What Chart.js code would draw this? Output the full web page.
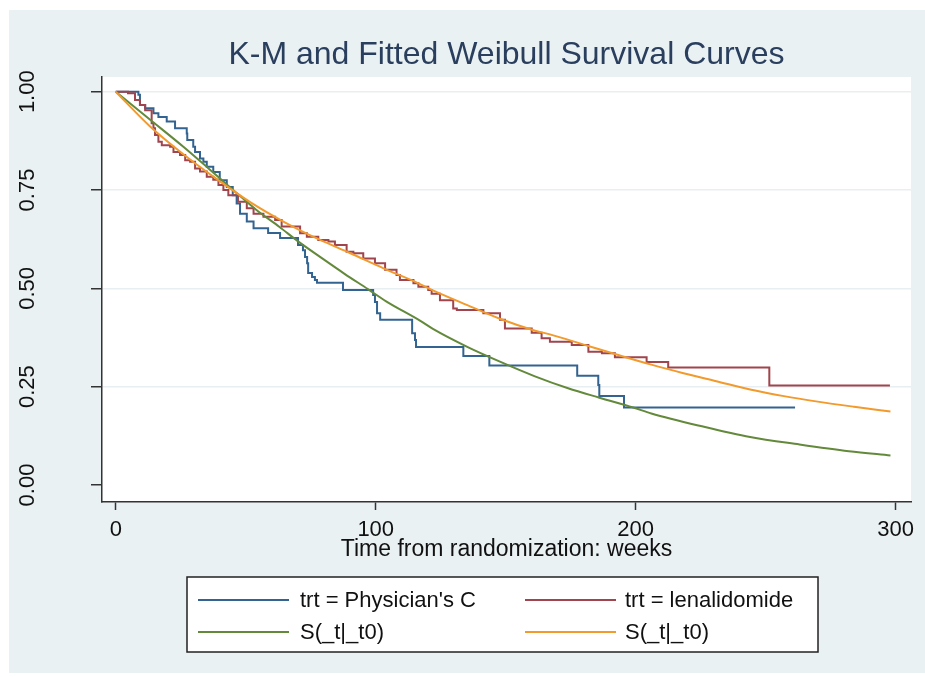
<!DOCTYPE html>
<html>
<head>
<meta charset="utf-8">
<title>K-M and Fitted Weibull Survival Curves</title>
<script src="https://cdn.jsdelivr.net/npm/chart.js@4.4.1/dist/chart.umd.min.js"></script>
<style>
    html, body { margin: 0; padding: 0; background: #ffffff; }
    #wrap { position: absolute; left: 9px; top: 10px; width: 916px; height: 663px; }
    #survivalChart { background: #eaf1f3; }
</style>
</head>
<body>
<div id="wrap"><canvas id="survivalChart" width="916" height="663"></canvas></div>
<script>
// Kaplan-Meier, Physician's Choice (semanas, supervivencia tras el salto)
const kmPhysTime = [0, 8.7, 9.3, 11.3, 14.5, 16.4, 19.6, 22.8, 27.3, 27.5, 29.8, 30.5, 32.4, 33.7, 35, 37.5, 40, 42.7,
    45, 46.5, 47.8, 50.4, 53, 58.6, 63.2, 70.1, 72, 72.8, 73.6, 74, 75.5, 76.6, 77.4, 87.4, 99, 99.7, 100.5, 101.7,
    114, 115.1, 115.5, 133.7, 143.7, 177.5, 185.6, 186, 195.5, 261.3];
const kmPhysSurv = [1, 0.992, 0.966, 0.958, 0.945, 0.936, 0.924, 0.907, 0.894, 0.877, 0.86, 0.847, 0.83, 0.822, 0.809, 0.796, 0.775, 0.758,
    0.737, 0.716, 0.69, 0.67, 0.653, 0.641, 0.628, 0.61, 0.597, 0.58, 0.564, 0.539, 0.529, 0.521, 0.514, 0.496, 0.483, 0.465, 0.437, 0.42,
    0.386, 0.369, 0.351, 0.328, 0.304, 0.278, 0.254, 0.226, 0.197, 0.197];

// Kaplan-Meier, lenalidomide
const kmLenaTime = [0, 4.7, 7.4, 9.3, 11.3, 13.8, 14.5, 15.1, 16.4, 17.7, 20.9, 22.2, 24.7, 26.7, 28.6, 30.5, 32.4, 35, 37.5,
    39.5, 41.4, 43.3, 47, 50.4, 53, 56.8, 61.3, 63.8, 70.9, 73.5, 77.9, 81.8, 84.3, 88.8, 91.4, 95.2, 99.7, 103.6, 108,
    109.3, 114.5, 116.4, 120.2, 121.5, 124.7, 129.8, 131.2, 141.4, 147.8, 149.7, 160, 163.8, 167, 175.4, 181.8, 187,
    192, 204.2, 212.5, 251.4, 297.8];
const kmLenaSurv = [1, 0.996, 0.979, 0.966, 0.953, 0.92, 0.907, 0.89, 0.873, 0.864, 0.86, 0.847, 0.839, 0.826, 0.822, 0.805, 0.797, 0.784, 0.776,
    0.763, 0.75, 0.737, 0.72, 0.704, 0.69, 0.682, 0.674, 0.657, 0.64, 0.631, 0.623, 0.619, 0.61, 0.593, 0.589, 0.576, 0.564, 0.547, 0.534,
    0.521, 0.513, 0.504, 0.496, 0.486, 0.47, 0.449, 0.445, 0.437, 0.42, 0.398, 0.387, 0.373, 0.364, 0.356, 0.339, 0.335,
    0.325, 0.313, 0.299, 0.253, 0.253];

// Weibull ajustado, Physician's Choice
const weibPhysTime = [0, 13, 26, 36, 45, 54, 63, 70, 79, 88, 97, 104, 117, 122, 135, 148, 161, 174, 186, 199, 206, 225, 244, 263, 282, 298];
const weibPhysSurv = [1, 0.93, 0.86, 0.803, 0.751, 0.7, 0.656, 0.62, 0.578, 0.537, 0.498, 0.467, 0.418, 0.397, 0.352, 0.313, 0.277, 0.246,
    0.222, 0.197, 0.182, 0.15, 0.122, 0.103, 0.086, 0.075];

// Weibull ajustado, lenalidomide
const weibLenaTime = [0, 13, 26, 39, 52, 65, 78, 90, 103, 116, 122, 135, 148, 161, 167, 180, 193, 206, 218, 231, 244, 257, 270, 284, 298];
const weibLenaSurv = [1, 0.913, 0.841, 0.777, 0.718, 0.668, 0.625, 0.59, 0.551, 0.514, 0.495, 0.458, 0.422, 0.393, 0.383, 0.357, 0.331,
    0.306, 0.285, 0.264, 0.243, 0.226, 0.212, 0.199, 0.187];

const xTicks = [0, 100, 200, 300];
const yTicks = [0, 0.25, 0.5, 0.75, 1];
const seriesLabels = ["trt = Physician's C", 'trt = lenalidomide', 'S(_t|_t0)', 'S(_t|_t0)'];
const seriesColors = ['#336491', '#a0444d', '#63893b', '#f29a2c'];
const chartTitle = 'K-M and Fitted Weibull Survival Curves';

const fontFamily = '"Liberation Sans", Arial, sans-serif';
const axisColor = '#333333';

function toPoints(times, values) {
    return times.map((t, i) => ({ x: t, y: values[i] }));
}

// Fondo blanco del área de trazado
const plotAreaBg = {
    id: 'plotAreaBg',
    beforeDraw(chart) {
        const { ctx, chartArea: a } = chart;
        ctx.save();
        ctx.fillStyle = '#ffffff';
        ctx.fillRect(a.left, a.top, a.right - a.left, a.bottom - a.top);
        ctx.restore();
    }
};

// Título centrado sobre el área de trazado (como en Stata)
const plotTitle = {
    id: 'plotTitle',
    afterDraw(chart) {
        const { ctx, chartArea: a } = chart;
        ctx.save();
        ctx.font = '32px ' + fontFamily;
        ctx.fillStyle = '#2a3f5e';
        ctx.textAlign = 'center';
        ctx.textBaseline = 'alphabetic';
        ctx.fillText(chartTitle, (a.left + a.right) / 2, 54);
        ctx.restore();
    }
};

// Leyenda con marco, dos columnas, al estilo Stata
const boxLegend = {
    id: 'boxLegend',
    afterDraw(chart) {
        const ctx = chart.ctx;
        const box = { x: 178, y: 567, w: 631, h: 75 };
        const rows = [590, 622];
        const cols = [{ line: 189, text: 291 }, { line: 516, text: 616 }];
        ctx.save();
        ctx.fillStyle = '#ffffff';
        ctx.fillRect(box.x, box.y, box.w, box.h);
        ctx.strokeStyle = '#222222';
        ctx.lineWidth = 1.5;
        ctx.strokeRect(box.x, box.y, box.w, box.h);
        ctx.font = '22px ' + fontFamily;
        ctx.textBaseline = 'middle';
        ctx.fillStyle = '#111111';
        seriesLabels.forEach((label, i) => {
            const row = rows[Math.floor(i / 2)];
            const col = cols[i % 2];
            ctx.strokeStyle = seriesColors[i];
            ctx.lineWidth = 2;
            ctx.beginPath();
            ctx.moveTo(col.line, row);
            ctx.lineTo(col.line + 91, row);
            ctx.stroke();
            ctx.fillText(label, col.text, row + 1);
        });
        ctx.restore();
    }
};

function initSurvivalChart(ctx) {
    return new Chart(ctx, {
        type: 'line',
        data: {
            datasets: [
                {
                    label: seriesLabels[0],
                    data: toPoints(kmPhysTime, kmPhysSurv),
                    borderColor: seriesColors[0],
                    stepped: 'before',
                    order: 4
                },
                {
                    label: seriesLabels[1],
                    data: toPoints(kmLenaTime, kmLenaSurv),
                    borderColor: seriesColors[1],
                    stepped: 'before',
                    order: 3
                },
                {
                    label: seriesLabels[2],
                    data: toPoints(weibPhysTime, weibPhysSurv),
                    borderColor: seriesColors[2],
                    cubicInterpolationMode: 'monotone',
                    order: 2
                },
                {
                    label: seriesLabels[3],
                    data: toPoints(weibLenaTime, weibLenaSurv),
                    borderColor: seriesColors[3],
                    cubicInterpolationMode: 'monotone',
                    order: 1
                }
            ]
        },
        options: {
            responsive: false,
            animation: false,
            events: [],
            layout: { padding: { top: 67, left: 0, right: 14, bottom: 0 } },
            elements: {
                point: { radius: 0 },
                line: { borderWidth: 2, fill: false }
            },
            scales: {
                x: {
                    type: 'linear',
                    min: -5.3,
                    max: 305.9,
                    afterBuildTicks: scale => { scale.ticks = xTicks.map(v => ({ value: v })); },
                    afterFit: scale => { scale.height = 171; },
                    ticks: {
                        font: { family: fontFamily, size: 22 },
                        color: '#111111',
                        padding: 7,
                        maxRotation: 0
                    },
                    grid: {
                        drawOnChartArea: false,
                        tickLength: 8,
                        tickColor: axisColor,
                        tickWidth: 1.5
                    },
                    border: { color: axisColor, width: 1.5 },
                    title: {
                        display: true,
                        text: 'Time from randomization: weeks',
                        font: { family: fontFamily, size: 23 },
                        color: '#111111',
                        padding: { top: 0, bottom: 110 }
                    }
                },
                y: {
                    type: 'linear',
                    min: -0.0432,
                    max: 1.0374,
                    afterBuildTicks: scale => { scale.ticks = yTicks.map(v => ({ value: v })); },
                    afterFit: scale => { scale.width = 93; },
                    ticks: {
                        font: { family: fontFamily, size: 22 },
                        color: '#111111',
                        minRotation: 90,
                        maxRotation: 90,
                        crossAlign: 'center',
                        padding: 42,
                        callback: v => v.toFixed(2)
                    },
                    grid: {
                        color: c => (c.tick && c.tick.value === 0) ? 'rgba(0,0,0,0)' : '#e7eff2',
                        lineWidth: 1.5,
                        tickLength: 11,
                        tickColor: axisColor,
                        tickWidth: 1.5
                    },
                    border: { color: axisColor, width: 1.5 }
                }
            },
            plugins: {
                legend: { display: false },
                tooltip: { enabled: false },
                title: { display: false }
            }
        },
        plugins: [plotAreaBg, plotTitle, boxLegend]
    });
}

document.addEventListener('DOMContentLoaded', () => {
    initSurvivalChart(document.getElementById('survivalChart'));
});
</script>
</body>
</html>
